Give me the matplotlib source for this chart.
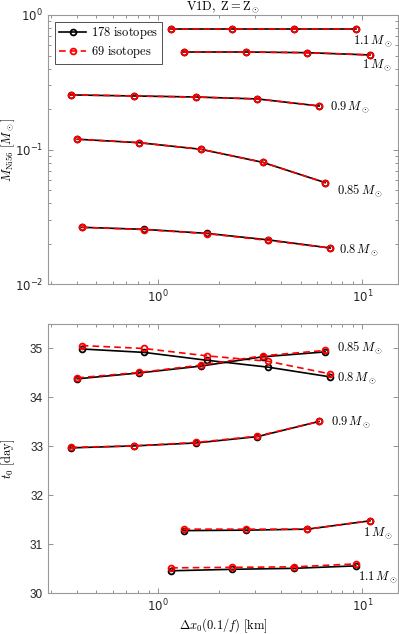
import matplotlib
matplotlib.use("Agg")
import matplotlib.pyplot as plt
from matplotlib.ticker import LogLocator, NullFormatter, FixedLocator, FixedFormatter

plt.rcParams["font.family"] = "Liberation Sans"
plt.rcParams["font.size"] = 8

# grid spacing dx0 (km) for each white-dwarf mass
dx_08 = [0.424, 0.855, 1.73, 3.44, 6.97]
dx_085 = [0.403, 0.808, 1.62, 3.25, 6.58]
dx_09 = [0.375, 0.76, 1.53, 3.07, 6.15]
dx_10 = [1.335, 2.71, 5.39, 10.9]
dx_11 = [1.16, 2.31, 4.64, 9.29]

# M_Ni56 [Msun], 178 isotopes / 69 isotopes
ni_08_178 = [0.0265, 0.0256, 0.0239, 0.0214, 0.0186]
ni_08_69 = [0.0265, 0.0255, 0.0238, 0.0212, 0.0186]
ni_085_178 = [0.1195, 0.1127, 0.1007, 0.0806, 0.0569]
ni_085_69 = [0.1195, 0.1127, 0.1007, 0.0806, 0.0569]
ni_09_178 = [0.255, 0.2505, 0.246, 0.238, 0.211]
ni_09_69 = [0.255, 0.2505, 0.246, 0.238, 0.211]
ni_10_178 = [0.531, 0.531, 0.525, 0.505]
ni_10_69 = [0.531, 0.531, 0.525, 0.505]
ni_11_178 = [0.783, 0.783, 0.783, 0.783]
ni_11_69 = [0.783, 0.783, 0.783, 0.783]

# t0 [day]
t0_08_178 = [34.99, 34.92, 34.76, 34.62, 34.42]
t0_08_69 = [35.06, 35.00, 34.85, 34.74, 34.48]
t0_085_178 = [34.38, 34.50, 34.64, 34.83, 34.93]
t0_085_69 = [34.40, 34.51, 34.66, 34.85, 34.96]
t0_09_178 = [32.97, 33.01, 33.07, 33.20, 33.51]
t0_09_69 = [32.98, 33.01, 33.08, 33.21, 33.51]
t0_10_178 = [31.28, 31.29, 31.31, 31.48]
t0_10_69 = [31.31, 31.31, 31.31, 31.48]
t0_11_178 = [30.46, 30.49, 30.51, 30.56]
t0_11_69 = [30.52, 30.53, 30.54, 30.60]

masses = ["0.8", "0.85", "0.9", "1", "1.1"]
dx_all = [dx_08, dx_085, dx_09, dx_10, dx_11]
ni_178 = [ni_08_178, ni_085_178, ni_09_178, ni_10_178, ni_11_178]
ni_69 = [ni_08_69, ni_085_69, ni_09_69, ni_10_69, ni_11_69]
t0_178 = [t0_08_178, t0_085_178, t0_09_178, t0_10_178, t0_11_178]
t0_69 = [t0_08_69, t0_085_69, t0_09_69, t0_10_69, t0_11_69]

# label anchors (data coords)
ni_lab = [(7.7, 0.0178), (7.5, 0.0493), (6.96, 0.207), (9.97, 0.425), (9.0, 0.641)]
t0_lab = [(7.5, 34.40), (7.5, 35.01), (7.03, 33.49), (10.05, 31.22), (9.57, 30.32)]

W, H = 399, 634
fig = plt.figure(figsize=(W / 100, H / 100), dpi=100)
ax1 = fig.add_axes([48 / W, 1 - 284.3 / H, 350.3 / W, 269.3 / H])
ax2 = fig.add_axes([48 / W, 1 - 593.3 / H, 350.3 / W, 269.3 / H])

line_kw = dict(lw=1.2, marker="o", ms=4.2, mew=1.3, mfc="none")
for i in range(len(masses)):
    ax1.plot(dx_all[i], ni_178[i], color="black", ls="-", **line_kw,
             label="$\\mathrm{178\\ isotopes}$" if i == 0 else None)
    ax1.plot(dx_all[i], ni_69[i], color="red", ls=(0, (4, 2.5)), **line_kw,
             label="$\\mathrm{69\\ isotopes}$" if i == 0 else None)
    ax2.plot(dx_all[i], t0_178[i], color="black", ls="-", **line_kw)
    ax2.plot(dx_all[i], t0_69[i], color="red", ls=(0, (4, 2.5)), **line_kw)
    lab = "$%s\\,M_\\odot$" % masses[i]
    ax1.text(ni_lab[i][0], ni_lab[i][1], lab, fontsize=9, va="center",
             ha="left", math_fontfamily="cm")
    ax2.text(t0_lab[i][0], t0_lab[i][1], lab, fontsize=9, va="center",
             ha="left", math_fontfamily="cm")

for ax in (ax1, ax2):
    ax.set_xscale("log")
    ax.set_xlim(0.29, 15)
    ax.xaxis.set_major_locator(FixedLocator([1, 10]))
    ax.xaxis.set_major_formatter(FixedFormatter(["$10^{0}$", "$10^{1}$"]))
    ax.xaxis.set_minor_locator(LogLocator(base=10, subs=range(2, 10), numticks=20))
    ax.xaxis.set_minor_formatter(NullFormatter())
    ax.tick_params(which="both", direction="in", top=True, right=True,
                   colors="0.5", labelcolor="#262626", labelsize=8.5)
    ax.tick_params(which="major", length=3.5, width=0.6)
    ax.tick_params(which="minor", length=2, width=0.6)
    for sp in ax.spines.values():
        sp.set_color("0.6")
        sp.set_linewidth(0.8)

ax1.set_yscale("log")
ax1.set_ylim(0.01, 1)
ax1.yaxis.set_major_locator(FixedLocator([0.01, 0.1, 1]))
ax1.yaxis.set_major_formatter(FixedFormatter(["$10^{-2}$", "$10^{-1}$", "$10^{0}$"]))
ax1.yaxis.set_minor_locator(LogLocator(base=10, subs=range(2, 10), numticks=20))
ax1.yaxis.set_minor_formatter(NullFormatter())

ax2.set_ylim(30, 35.5)
ax2.set_yticks([30, 31, 32, 33, 34, 35])

ax1.set_title("$\\mathrm{V1D,\\ Z = Z_\\odot}$", fontsize=9, pad=2,
              math_fontfamily="cm")
ax1.set_ylabel("$M_{\\rm Ni56}\\ [M_\\odot]$", fontsize=9,
               math_fontfamily="cm")
ax2.set_ylabel("$t_0\\ [\\rm day]$", fontsize=9, math_fontfamily="cm")
ax1.yaxis.set_label_coords(-0.088, 0.5)
ax2.yaxis.set_label_coords(-0.088, 0.5)
ax2.set_xlabel("$\\Delta x_0 (0.1/f)\\ [\\rm km]$", fontsize=9, labelpad=1,
               math_fontfamily="cm")

leg = ax1.legend(loc="upper left", bbox_to_anchor=(0.02, 0.975), fontsize=9,
                 fancybox=False, edgecolor="0.2", framealpha=1,
                 handlelength=2.2, handletextpad=0.4, borderpad=0.3,
                 labelspacing=0.2, borderaxespad=0)
leg.get_frame().set_linewidth(0.6)
for t in leg.get_texts():
    t.set_math_fontfamily("cm")

fig.savefig("out.png", dpi=100)
